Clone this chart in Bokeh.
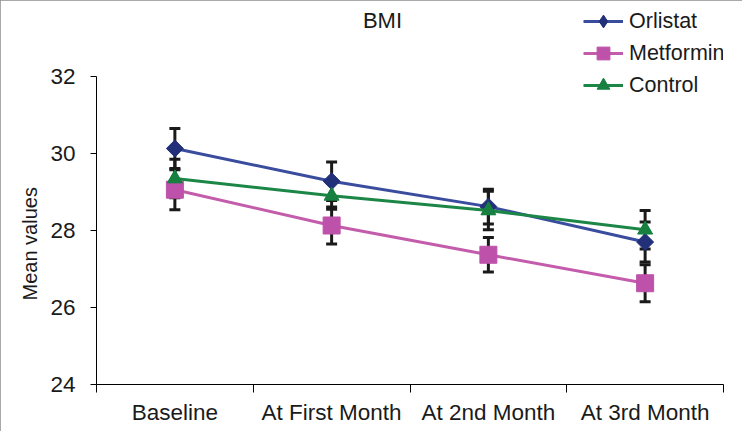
import math
from bokeh.plotting import figure
from bokeh.models import (ColumnDataSource, Whisker, TeeHead, Legend, LegendItem,
                          FixedTicker, Label, Title, InlineStyleSheet)
from bokeh.embed import file_html
from bokeh.resources import INLINE

categories = ["Baseline", "At First Month", "At 2nd Month", "At 3rd Month"]
orlistat = [30.13, 29.28, 28.62, 27.70]
metformin = [29.06, 28.13, 27.37, 26.63]
control = [29.35, 28.90, 28.52, 28.02]
orlistat_err = [0.52, 0.50, 0.45, 0.52]
metformin_err = [0.52, 0.48, 0.45, 0.48]
control_err = [0.50, 0.35, 0.50, 0.50]
y_ticks = [24, 26, 28, 30, 32]

FONT = "Liberation Sans"

xs = [i + 0.5 for i in range(len(categories))]

# frame spans the full height above the axis; the axis itself stops at 32
TOP = 2
y_end = 32 + (76 - TOP) / 38.5

p = figure(width=742, height=431, output_backend="svg", toolbar_location=None,
           x_range=(0, len(categories)), y_range=(24, y_end),
           min_border_left=96, min_border_right=19, min_border_top=TOP,
           min_border_bottom=47)
p.outline_line_color = None
p.xgrid.visible = False
p.ygrid.visible = False
p.background_fill_color = "white"
p.border_fill_color = "white"
p.stylesheets = [InlineStyleSheet(css=":host { outline: 2px solid #8c8c8c; outline-offset: -2px; }")]

series = [
    ("Orlistat", orlistat, orlistat_err, "#3A4C9E", "#22307A", "square", 12, math.pi / 4, "diamond", 15),
    ("Metformin", metformin, metformin_err, "#C45CAC", "#BE52AA", "square", 17, 0, "square", 13),
    ("Control", control, control_err, "#1C8646", "#178040", "triangle", 15, 0, "triangle", 13),
]

# error bars (behind)
for s in series:
    name, vals, errs = s[0], s[1], s[2]
    src = ColumnDataSource(dict(x=xs,
                                lower=[v - e for v, e in zip(vals, errs)],
                                upper=[v + e for v, e in zip(vals, errs)]))
    w = Whisker(source=src, base="x", lower="lower", upper="upper",
                line_color="#1a1a1a", line_width=3, level="underlay",
                upper_head=TeeHead(size=11, line_color="#1a1a1a", line_width=3),
                lower_head=TeeHead(size=11, line_color="#1a1a1a", line_width=3))
    p.add_layout(w)

items = []
for name, vals, errs, lc, mc, mk, sz, ang, lmk, lsz in series:
    src = ColumnDataSource(dict(x=xs, y=vals))
    lr = p.line("x", "y", source=src, line_color=lc, line_width=3)
    # smaller legend-style marker, fully covered by the plot marker drawn next
    lg = p.scatter("x", "y", source=src, marker=lmk, size=lsz,
                   fill_color=mc, line_color=mc)
    p.scatter("x", "y", source=src, marker=mk, size=sz, angle=ang,
              fill_color=mc, line_color=mc)
    items.append(LegendItem(label=name, renderers=[lr, lg]))

legend = Legend(items=items, location=(487, 283), orientation="vertical",
                glyph_width=40, glyph_height=32, label_height=32,
                label_standoff=6, padding=0, margin=0, spacing=0,
                border_line_color=None, background_fill_alpha=0,
                label_text_font=FONT, label_text_font_size="21.5px",
                label_text_color="#1a1a1a")
p.add_layout(legend)

# axes
p.xaxis.ticker = FixedTicker(ticks=xs, minor_ticks=list(range(len(categories) + 1)))
p.xaxis.major_label_overrides = {x: c for x, c in zip(xs, categories)}
p.xaxis.major_tick_out = 0
p.xaxis.major_tick_in = 0
p.xaxis.minor_tick_out = 8
p.xaxis.minor_tick_in = 0
p.xaxis.minor_tick_line_color = "black"
p.xaxis.axis_line_color = "black"
p.xaxis.major_label_text_font = FONT
p.xaxis.major_label_text_font_size = "22.5px"
p.xaxis.major_label_text_color = "#1a1a1a"
p.xaxis.major_label_standoff = 7

p.yaxis.ticker = FixedTicker(ticks=y_ticks)
p.yaxis.bounds = (24, 32)
p.yaxis.major_tick_out = 6
p.yaxis.major_tick_in = 0
p.yaxis.minor_tick_line_color = None
p.yaxis.axis_line_color = "black"
p.yaxis.major_label_text_font = FONT
p.yaxis.major_label_text_font_size = "22.5px"
p.yaxis.major_label_text_color = "#1a1a1a"
p.yaxis.major_label_standoff = 15

# y axis title, positioned along the axis (not the taller frame)
ytitle = Title(text="Mean values", align="left", offset=84, standoff=13,
               text_font=FONT, text_font_size="20px", text_font_style="normal",
               text_color="#1a1a1a")
p.add_layout(ytitle, "left")

title = Label(x=286, y=364, x_units="screen", y_units="screen", text="BMI",
              text_align="center", text_baseline="middle",
              text_font=FONT, text_font_size="22px", text_color="#1a1a1a")
p.add_layout(title)

open("out.html", "w").write(file_html(p, INLINE))
